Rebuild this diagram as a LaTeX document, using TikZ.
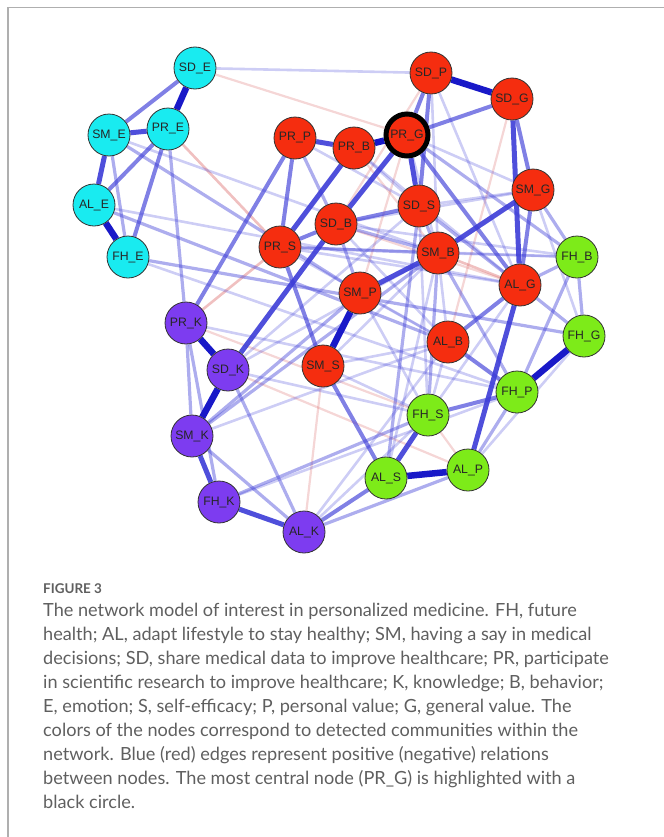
\documentclass[tikz,border=0pt]{standalone}
\usepackage{fontspec}
\setmainfont{Lato}
\newfontfamily\lab{Liberation Sans}
\pgfdeclarelayer{edges}
\pgfsetlayers{edges,main}
\definecolor{cyanN}{RGB}{25,235,240}
\definecolor{redN}{RGB}{245,45,15}
\definecolor{purN}{RGB}{125,60,240}
\definecolor{grnN}{RGB}{125,235,25}
\definecolor{bordN}{RGB}{50,50,50}
\definecolor{blueE}{RGB}{60,60,215}
\definecolor{blueD}{RGB}{25,25,200}
\definecolor{redE}{RGB}{215,90,90}
\definecolor{capC}{RGB}{95,95,95}
\definecolor{frameC}{RGB}{175,175,175}
\tikzset{
  nd/.style={circle,draw=bordN,line width=0.8bp,minimum size=42bp,inner sep=0pt,font=\lab\fontsize{12.3}{12}\selectfont,text=black!85},
  cy/.style={nd,fill=cyanN},
  rd/.style={nd,fill=redN},
  pu/.style={nd,fill=purN},
  gr/.style={nd,fill=grnN},
  eA/.style={draw=blueD,line width=6.5bp},
  eB/.style={draw=blueE,line width=5bp,draw opacity=0.9},
  eC/.style={draw=blueE,line width=4bp,draw opacity=0.65},
  eD/.style={draw=blueE,line width=3.2bp,draw opacity=0.42},
  eE/.style={draw=blueE,line width=2.6bp,draw opacity=0.26},
  rE/.style={draw=redE,line width=2.6bp,draw opacity=0.38},
  rF/.style={draw=redE,line width=2.2bp,draw opacity=0.25},
  capl/.style={anchor=base west,inner sep=0pt,text=capC,font=\fontsize{18.2}{20}\selectfont}
}
\begin{document}
\begin{tikzpicture}[x=1bp,y=-1bp]
\useasboundingbox (0,0) rectangle (664,837);
\draw[frameC,line width=1.5bp] (8,837) -- (8,7.5) -- (664,7.5);
% nodes
\node[cy] (SDE) at (195,68) {SD\_E};
\node[cy] (PRE) at (168,129) {PR\_E};
\node[cy] (SME) at (109,135) {SM\_E};
\node[cy] (ALE) at (94,205) {AL\_E};
\node[cy] (FHE) at (128,257) {FH\_E};
\node[rd] (SDP) at (431,73) {SD\_P};
\node[rd] (SDG) at (512,99) {SD\_G};
\node[rd] (PRP) at (295,138) {PR\_P};
\node[rd] (PRB) at (354,148) {PR\_B};
\node[rd,draw=black,line width=5bp] (PRG) at (407,135) {PR\_G};
\node[rd] (SMG) at (533,190) {SM\_G};
\node[rd] (SDS) at (419,206) {SD\_S};
\node[rd] (SDB) at (336,224) {SD\_B};
\node[rd] (PRS) at (280,247) {PR\_S};
\node[rd] (SMB) at (438,253) {SM\_B};
\node[gr] (FHB) at (577,257) {FH\_B};
\node[rd] (ALG) at (520,285) {AL\_G};
\node[rd] (SMP) at (360,293) {SM\_P};
\node[pu] (PRK) at (186,323) {PR\_K};
\node[gr] (FHG) at (584,336) {FH\_G};
\node[rd] (ALB) at (448,342) {AL\_B};
\node[pu] (SDK) at (228,370) {SD\_K};
\node[rd] (SMS) at (323,366) {SM\_S};
\node[gr] (FHP) at (517,392) {FH\_P};
\node[gr] (FHS) at (428,415) {FH\_S};
\node[pu] (SMK) at (192,436) {SM\_K};
\node[gr] (ALP) at (468,470) {AL\_P};
\node[gr] (ALS) at (386,478) {AL\_S};
\node[pu] (FHK) at (219,502) {FH\_K};
\node[pu] (ALK) at (304,532) {AL\_K};
% edges
\begin{pgfonlayer}{edges}
% red (negative)
\draw[rF] (SDE) -- (PRG);
\draw[rE] (PRE) -- (PRS);
\draw[rE] (PRK) -- (PRS);
\draw[rF] (SDG) -- (ALB);
\draw[rF] (SDB) -- (ALG);
\draw[rF] (PRG) -- (SMP);
\draw[rE] (SMB) -- (ALG);
\draw[rF] (ALK) -- (SMS);
\draw[rF] (SDK) -- (ALP);
\draw[rF] (PRK) -- (FHS);
\draw[rF] (FHS) -- (ALP);
\draw[rF] (SDP) -- (SDB);
\draw[rF] (PRB) -- (SMB);
% very light
\draw[eE] (SDE) -- (SDP);
\draw[eE] (ALE) -- (ALG);
\draw[eE] (SME) -- (SMB);
\draw[eE] (PRK) -- (FHP);
\draw[eE] (SDB) -- (ALB);
\draw[eE] (PRB) -- (SDS);
\draw[eE] (SDS) -- (SMG);
\draw[eE] (PRG) -- (SMB);
\draw[eE] (SMP) -- (ALB);
\draw[eE] (SMP) -- (FHS);
\draw[eE] (SMS) -- (FHS);
\draw[eE] (SMS) -- (ALB);
\draw[eE] (SDB) -- (FHB);
\draw[eE] (SMB) -- (FHB);
\draw[eE] (SMB) -- (ALB);
\draw[eE] (SDS) -- (FHS);
\draw[eE] (ALB) -- (FHS);
\draw[eE] (PRS) -- (ALG);
\draw[eE] (SDK) -- (SMB);
\draw[eE] (SDK) -- (SDS);
\draw[eE] (FHE) -- (FHP);
\draw[eE] (FHG) -- (SMG);
\draw[eE] (FHG) -- (ALP);
\draw[eE] (PRG) -- (SMG);
\draw[eE] (SDP) -- (SMB);
\draw[eE] (SDP) -- (ALG);
\draw[eE] (FHS) -- (ALG);
\draw[eE] (SMB) -- (ALS);
\draw[eE] (PRS) -- (ALB);
\draw[eE] (PRP) -- (SDS);
\draw[eE] (SMK) -- (ALB);
\draw[eE] (FHK) -- (FHP);
\draw[eE] (ALK) -- (FHS);
\draw[eE] (ALK) -- (ALB);
\draw[eE] (SDK) -- (FHS);
\draw[eE] (PRS) -- (FHB);
\draw[eE] (SDB) -- (SMG);
\draw[eE] (SMS) -- (SMB);
\draw[eE] (PRB) -- (ALG);
% light
\draw[eD] (SME) -- (FHE);
\draw[eD] (PRE) -- (PRK);
\draw[eD] (FHB) -- (FHG);
\draw[eD] (PRK) -- (SMK);
\draw[eD] (PRK) -- (FHK);
\draw[eD] (FHK) -- (FHS);
\draw[eD] (SDK) -- (ALK);
\draw[eD] (SMK) -- (ALK);
\draw[eD] (ALK) -- (ALP);
\draw[eD] (FHP) -- (ALP);
\draw[eD] (FHS) -- (SMB);
\draw[eD] (PRG) -- (FHB);
\draw[eD] (SMG) -- (FHB);
\draw[eD] (ALG) -- (FHG);
\draw[eD] (ALG) -- (FHB);
\draw[eD] (SDS) -- (SMB);
\draw[eD] (SDB) -- (SMB);
\draw[eD] (PRP) -- (SDB);
\draw[eD] (PRS) -- (SMB);
\draw[eD] (SMK) -- (SMP);
\draw[eD] (SMK) -- (SMB);
\draw[eD] (SME) -- (SMP);
\draw[eD] (FHE) -- (FHG);
\draw[eD] (ALE) -- (ALB);
\draw[eD] (ALS) -- (SDS);
\draw[eD] (FHP) -- (FHB);
\draw[eD] (SDS) -- (ALG);
\draw[eD] (SDB) -- (SMP);
\draw[eD] (SMB) -- (FHP);
% medium
\draw[eC] (SME) -- (SDE);
\draw[eC] (PRE) -- (ALE);
\draw[eC] (PRE) -- (FHE);
\draw[eC] (PRP) -- (PRS);
\draw[eC] (PRS) -- (SMS);
\draw[eC] (SDG) -- (PRG);
\draw[eC] (SDP) -- (PRG);
\draw[eC] (SDG) -- (SMG);
\draw[eC] (SMG) -- (ALG);
\draw[eC] (PRS) -- (SDB);
\draw[eC] (ALB) -- (ALG);
\draw[eC] (ALB) -- (FHP);
\draw[eC] (ALK) -- (ALS);
\draw[eC] (FHS) -- (FHP);
\draw[eC] (PRP) -- (PRK);
\draw[eC] (SDP) -- (SDS);
\draw[eC] (PRG) -- (ALG);
\draw[eC] (SMS) -- (ALS);
\draw[eC] (SDS) -- (SDB);
% strong
\draw[eB] (PRP) -- (PRB);
\draw[eB] (SME) -- (PRE);
\draw[eB] (SME) -- (ALE);
\draw[eB] (FHK) -- (ALK);
\draw[eB] (SMK) -- (FHK);
\draw[eB] (PRG) -- (SDS);
\draw[eB] (PRG) -- (SDB);
\draw[eB] (SDB) -- (SDK);
\draw[eB] (PRB) -- (PRS);
\draw[eB] (SMG) -- (SMB);
\draw[eB] (SMB) -- (SMP);
\draw[eB] (ALG) -- (ALP);
\draw[eB] (ALS) -- (FHS);
\draw[eB] (SDG) -- (ALG);
% very strong
\draw[eA] (SDE) -- (PRE);
\draw[eA] (ALE) -- (FHE);
\draw[eA] (SDP) -- (SDG);
\draw[eA] (PRB) -- (PRG);
\draw[eA] (ALS) -- (ALP);
\draw[eA] (FHG) -- (FHP);
\draw[eA] (SMP) -- (SMS);
\draw[eA] (SDK) -- (SMK);
\draw[eA] (PRK) -- (SDK);
\end{pgfonlayer}
% caption
\node[anchor=base west,inner sep=0pt,text=capC,font=\bfseries\fontsize{13.5}{13.5}\selectfont] (fig) at (43,593) {FIGURE 3};
\node[capl] (c1) at (43,616) {The network model of interest in personalized medicine. FH, future};
\node[capl] (c2) at (43,640) {health; AL, adapt lifestyle to stay healthy; SM, having a say in medical};
\node[capl] (c3) at (43,664) {decisions; SD, share medical data to improve healthcare; PR, participate};
\node[capl] (c4) at (43,688) {in scientific research to improve healthcare; K, knowledge; B, behavior;};
\node[capl] (c5) at (43,712) {E, emotion; S, self-efficacy; P, personal value; G, general value. The};
\node[capl] (c6) at (43,736) {colors of the nodes correspond to detected communities within the};
\node[capl] (c7) at (43,760) {network. Blue (red) edges represent positive (negative) relations};
\node[capl] (c8) at (43,784) {between nodes. The most central node (PR\_G) is highlighted with a};
\node[capl] (c9) at (43,808) {black circle.};
\end{tikzpicture}
\end{document}
